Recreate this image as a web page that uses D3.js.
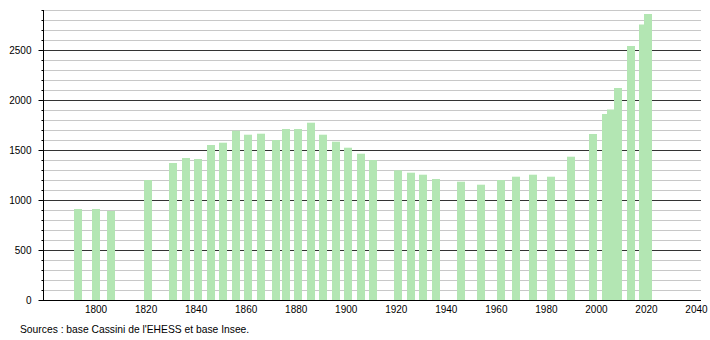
<!DOCTYPE html>
<html>
<head>
<meta charset="utf-8">
<script src="https://cdn.jsdelivr.net/npm/d3@7"></script>
<style>
  body { margin: 0; background: #fff; }
  text { font-family: "Liberation Sans", Arial, sans-serif; }
</style>
</head>
<body>
<div id="chart"></div>
<script>
var years = [1793, 1800, 1806, 1821, 1831, 1836, 1841, 1846, 1851, 1856, 1861, 1866,
  1872, 1876, 1881, 1886, 1891, 1896, 1901, 1906, 1911, 1921, 1926, 1931, 1936,
  1946, 1954, 1962, 1968, 1975, 1982, 1990, 1999, 2004, 2006, 2009, 2014, 2019, 2021];
var population = [910, 910, 890, 1200, 1370, 1420, 1410, 1550, 1573, 1693, 1653, 1663,
  1600, 1710, 1710, 1773, 1653, 1583, 1523, 1463, 1400, 1297, 1273, 1253, 1210,
  1183, 1153, 1200, 1233, 1253, 1233, 1433, 1660, 1860, 1905, 2120, 2540, 2755, 2860];
var yearTicks = [1800, 1820, 1840, 1860, 1880, 1900, 1920, 1940, 1960, 1980, 2000, 2020, 2040];
var popTicks = [0, 500, 1000, 1500, 2000, 2500];
var source = "Sources : base Cassini de l'EHESS et base Insee.";

var width = 710, height = 340;
var plot = {left: 43, right: 701, top: 10, bottom: 300};

var svg = d3.select("#chart").append("svg")
    .attr("width", width)
    .attr("height", height);

var x = d3.scaleLinear()
  .domain([1779, 2042])
  .range([plot.left, plot.right]);
var y = d3.scaleLinear()
  .domain([0, 2900])
  .range([plot.bottom, plot.top]);

// grid: light every 100, dark every 500
var minor = d3.range(100, 3000, 100);
svg.append("g").selectAll("line")
  .data(minor)
  .enter().append("line")
    .attr("x1", plot.left)
    .attr("x2", plot.right)
    .attr("y1", function(d) { return y(d) + 0.5; })
    .attr("y2", function(d) { return y(d) + 0.5; })
    .attr("stroke", function(d) { return d % 500 === 0 ? "#333" : "#c8c8c8"; })
    .attr("stroke-width", 1);

// bars
var barW = 8;
svg.append("g").selectAll("rect")
  .data(years)
  .enter().append("rect")
    .attr("x", function(d) { return Math.round(x(d) - barW / 2); })
    .attr("width", barW)
    .attr("y", function(d, i) { return y(population[i]); })
    .attr("height", function(d, i) { return y(0) - y(population[i]); })
    .attr("fill", "rgb(179,230,179)");

// y axis with small ticks every 100
var yAxis = d3.axisLeft(y)
  .tickValues(d3.range(0, 3000, 100))
  .tickSize(0)
  .tickFormat("");
var gy = svg.append("g")
  .attr("transform", "translate(" + (plot.left + 0.5) + ",0)")
  .call(yAxis);
gy.select(".domain").remove();
gy.append("line")
  .attr("y1", plot.top)
  .attr("y2", plot.bottom)
  .attr("stroke", "#000");
gy.selectAll(".tick").append("line")
  .attr("x1", function(d) { return d % 500 === 0 ? -5 : -2; })
  .attr("x2", 0)
  .attr("stroke", "#000");
gy.selectAll(".tick")
  .filter(function(d) { return popTicks.indexOf(d) >= 0; })
  .append("text")
    .attr("x", -12)
    .attr("dy", "0.35em")
    .attr("text-anchor", "end")
    .attr("fill", "#000")
    .style("font-size", "10px")
    .text(function(d) { return d; });

// x axis
var xAxis = d3.axisBottom(x)
  .tickValues(yearTicks)
  .tickSize(0)
  .tickPadding(5)
  .tickFormat(d3.format("d"));
var gx = svg.append("g")
  .attr("transform", "translate(0," + (plot.bottom + 0.5) + ")")
  .call(xAxis);
gx.select(".domain").remove();
gx.append("line")
  .attr("x1", plot.left)
  .attr("x2", plot.right)
  .attr("stroke", "#000");
gx.selectAll("text")
  .attr("font-family", null)
  .style("font-size", "10px")
  .attr("fill", "#000");
gy.attr("font-family", null);

svg.append("text")
  .attr("x", 20)
  .attr("y", 333)
  .style("font-size", "10.3px")
  .attr("fill", "#000")
  .text(source);
</script>
</body>
</html>
